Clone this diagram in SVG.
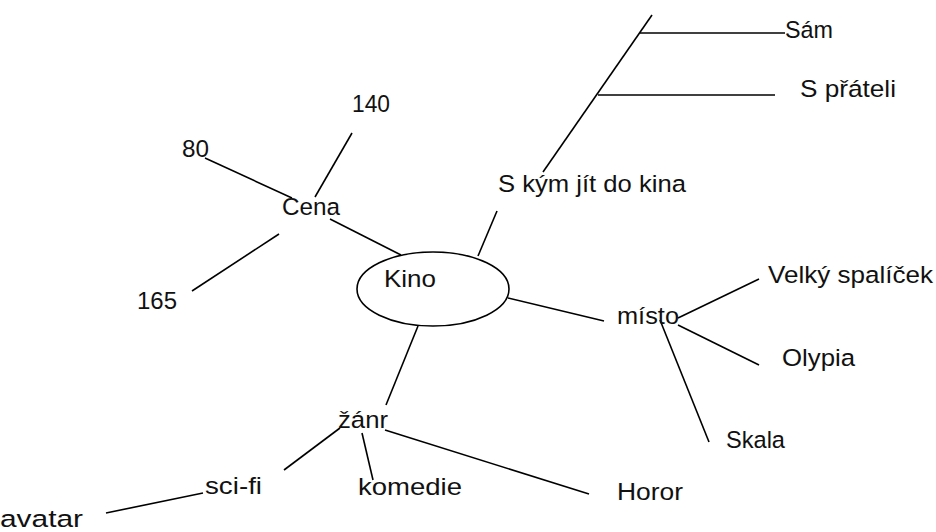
<svg xmlns="http://www.w3.org/2000/svg" width="936" height="532" viewBox="0 0 936 532">
<style>
text{font-family:"Liberation Sans",Arial,sans-serif;font-size:24.5px;fill:#111}
.c line{stroke:#000;stroke-width:1.6;fill:none}
</style>
<rect width="936" height="532" fill="#fff"/>
<g class="c" id="connectors">
<line x1="652" y1="15" x2="543" y2="172"/>
<line x1="640" y1="33" x2="785" y2="33"/>
<line x1="598" y1="95" x2="775" y2="95"/>
<line x1="497" y1="211" x2="478" y2="256"/>
<line x1="330" y1="219" x2="401" y2="255"/>
<line x1="352" y1="133" x2="315" y2="197"/>
<line x1="205" y1="158" x2="292" y2="198"/>
<line x1="279" y1="234" x2="192" y2="291"/>
<line x1="418" y1="326" x2="386" y2="405"/>
<line x1="340" y1="428" x2="284" y2="470"/>
<line x1="362" y1="433" x2="373" y2="480"/>
<line x1="385" y1="430" x2="589" y2="494"/>
<line x1="203" y1="493" x2="106" y2="513"/>
<line x1="508" y1="298" x2="604" y2="321"/>
<line x1="678" y1="318" x2="759" y2="279"/>
<line x1="678" y1="325" x2="759" y2="365"/>
<line x1="660" y1="320" x2="709" y2="442"/>
</g>
<g id="kino"><ellipse cx="433" cy="289" rx="76" ry="37" fill="none" stroke="#000" stroke-width="1.6"/><text x="384" y="287" textLength="52" lengthAdjust="spacingAndGlyphs">Kino</text></g>
<g id="s-kym"><text x="498" y="192" textLength="188" lengthAdjust="spacingAndGlyphs">S kým jít do kina</text></g>
<g id="sam"><text x="785" y="38" textLength="48" lengthAdjust="spacingAndGlyphs">Sám</text></g>
<g id="s-prateli"><text x="800" y="97" textLength="96" lengthAdjust="spacingAndGlyphs">S přáteli</text></g>
<g id="cena"><text x="282" y="215" textLength="58" lengthAdjust="spacingAndGlyphs">Cena</text></g>
<g id="c140"><text x="352" y="112" textLength="38" lengthAdjust="spacingAndGlyphs">140</text></g>
<g id="c80"><text x="182" y="157" textLength="27" lengthAdjust="spacingAndGlyphs">80</text></g>
<g id="c165"><text x="137" y="309" textLength="40" lengthAdjust="spacingAndGlyphs">165</text></g>
<g id="misto"><text x="617" y="324" textLength="62" lengthAdjust="spacingAndGlyphs">místo</text></g>
<g id="velky"><text x="768" y="283" textLength="165" lengthAdjust="spacingAndGlyphs">Velký spalíček</text></g>
<g id="olypia"><text x="782" y="366" textLength="73" lengthAdjust="spacingAndGlyphs">Olypia</text></g>
<g id="skala"><text x="726" y="448" textLength="59" lengthAdjust="spacingAndGlyphs">Skala</text></g>
<g id="zanr"><text x="338" y="428" textLength="50" lengthAdjust="spacingAndGlyphs">žánr</text></g>
<g id="scifi"><text x="205" y="494" textLength="57" lengthAdjust="spacingAndGlyphs">sci-fi</text></g>
<g id="komedie"><text x="358" y="495" textLength="104" lengthAdjust="spacingAndGlyphs">komedie</text></g>
<g id="horor"><text x="617" y="500" textLength="66" lengthAdjust="spacingAndGlyphs">Horor</text></g>
<g id="avatar"><text x="0" y="527" textLength="83" lengthAdjust="spacingAndGlyphs">avatar</text></g>
</svg>
